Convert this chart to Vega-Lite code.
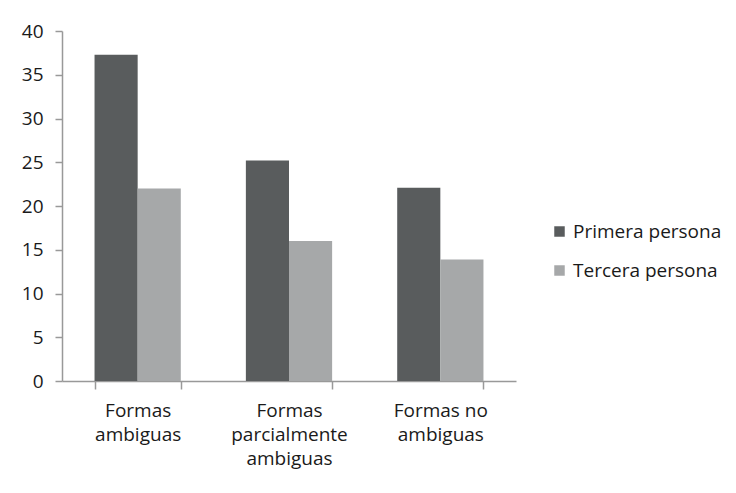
{
  "$schema": "https://vega.github.io/schema/vega-lite/v6.json",
  "autosize": {"type": "none"},
  "width": 454,
  "height": 350,
  "padding": {"left": 62, "top": 31, "right": 220, "bottom": 112},
  "background": "white",
  "data": {
    "values": [
      {"categoria": "Formas ambiguas", "serie": "Primera persona", "valor": 37.3},
      {"categoria": "Formas ambiguas", "serie": "Tercera persona", "valor": 22.0},
      {"categoria": "Formas parcialmente ambiguas", "serie": "Primera persona", "valor": 25.2},
      {"categoria": "Formas parcialmente ambiguas", "serie": "Tercera persona", "valor": 16.0},
      {"categoria": "Formas no ambiguas", "serie": "Primera persona", "valor": 22.1},
      {"categoria": "Formas no ambiguas", "serie": "Tercera persona", "valor": 13.9}
    ]
  },
  "mark": {"type": "bar"},
  "encoding": {
    "x": {
      "field": "categoria",
      "type": "nominal",
      "sort": null,
      "scale": {"paddingInner": 0.43, "paddingOuter": 0.215},
      "axis": {
        "title": null,
        "labelAngle": 0,
        "tickBand": "extent",
        "tickSize": 8,
        "tickColor": "#999999",
        "domainColor": "#999999",
        "labelFont": "Open Sans",
        "labelFontSize": 19,
        "labelColor": "#1a1a1a",
        "labelPadding": 12,
        "labelLineHeight": 24,
        "labelBaseline": "top",
        "labelExpr": "datum.label == 'Formas parcialmente ambiguas' ? ['Formas', 'parcialmente', 'ambiguas'] : datum.label == 'Formas no ambiguas' ? ['Formas no', 'ambiguas'] : datum.label == 'Formas ambiguas' ? ['Formas', 'ambiguas'] : ''"
      }
    },
    "xOffset": {
      "field": "serie",
      "type": "nominal",
      "scale": {"paddingInner": 0, "paddingOuter": 0}
    },
    "y": {
      "field": "valor",
      "type": "quantitative",
      "scale": {"domain": [0, 40]},
      "axis": {
        "title": null,
        "values": [0, 5, 10, 15, 20, 25, 30, 35, 40],
        "grid": false,
        "tickSize": 7,
        "tickColor": "#999999",
        "domainColor": "#999999",
        "labelFont": "Open Sans",
        "labelFontSize": 19,
        "labelColor": "#1a1a1a",
        "labelPadding": 12
      }
    },
    "color": {
      "field": "serie",
      "type": "nominal",
      "scale": {"domain": ["Primera persona", "Tercera persona"], "range": ["#595c5d", "#a6a8a9"]},
      "legend": {
        "title": null,
        "orient": "none",
        "legendX": 488,
        "legendY": 191,
        "symbolType": "square",
        "symbolSize": 110,
        "symbolStrokeWidth": 0,
        "labelFont": "Open Sans",
        "labelFontSize": 19,
        "labelColor": "#1a1a1a",
        "labelOffset": 4,
        "rowPadding": 19
      }
    }
  },
  "config": {
    "view": {"stroke": null},
    "axis": {"domainWidth": 1.5, "tickWidth": 1.5}
  }
}
